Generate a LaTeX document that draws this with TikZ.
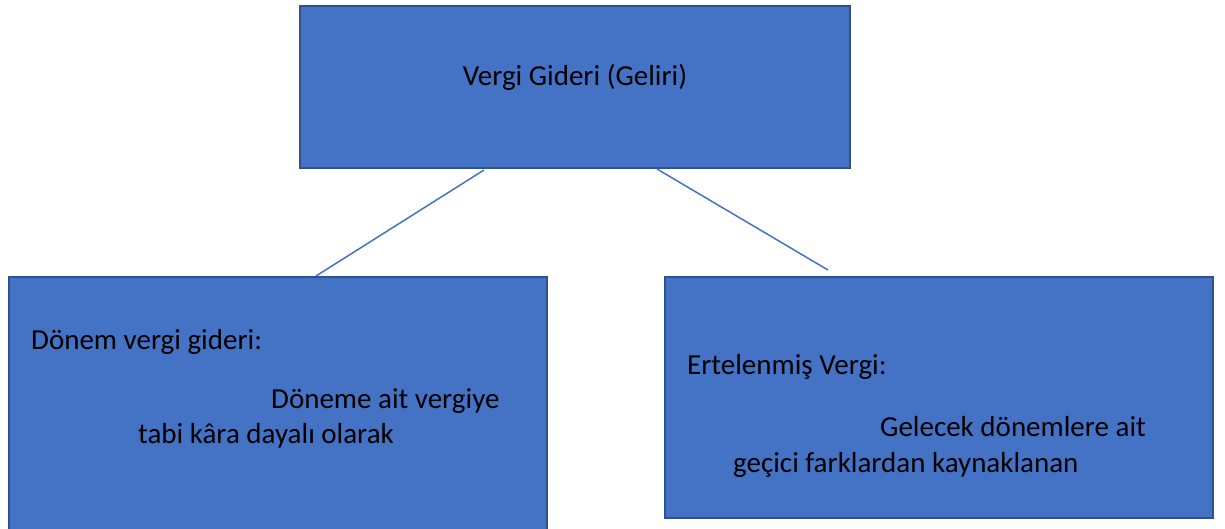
\documentclass[tikz,border=0pt]{standalone}
\usepackage{fontspec}
\setmainfont{Carlito}
\definecolor{boxfill}{HTML}{4472C4}
\definecolor{boxline}{HTML}{2F528F}
\definecolor{conn}{HTML}{4472C4}
\begin{document}
\begin{tikzpicture}[x=1pt,y=-1pt,
  blk/.style={draw=boxline,line width=2pt,fill=boxfill},
  lbl/.style={anchor=base west,inner sep=0pt,font=\fontsize{29}{34}\selectfont,text=black},
  conline/.style={draw=conn,line width=1.5pt}]
\useasboundingbox (0,0) rectangle (1225,529);
\draw[blk] (300,6) rectangle (850,168);
\coordinate (top) at (575,87);
\node[anchor=base,inner sep=0pt,font=\fontsize{29}{34}\selectfont] (t) at (575,86) {Vergi Gideri (Geliri)};
\draw[blk] (9,277) rectangle (547,540);
\draw[blk] (665,277) rectangle (1213,518);
\node[lbl] (l1) at (31,349) {Dönem vergi gideri:};
\node[lbl] (l2) at (271,408) {Döneme ait vergiye};
\node[lbl] (l3) at (138,443) {tabi kâra dayalı olarak};
\node[lbl] (r1) at (687,374) {Ertelenmiş Vergi:};
\node[lbl] (r2) at (880,436) {Gelecek dönemlere ait};
\node[lbl] (r3) at (733,472) {geçici farklardan kaynaklanan};
\coordinate (a1) at (484,170);
\coordinate (a2) at (316,276);
\coordinate (b1) at (657,169);
\coordinate (b2) at (828,270);
\draw[conline] (a1) -- (a2);
\draw[conline] (b1) -- (b2);
\end{tikzpicture}
\end{document}
